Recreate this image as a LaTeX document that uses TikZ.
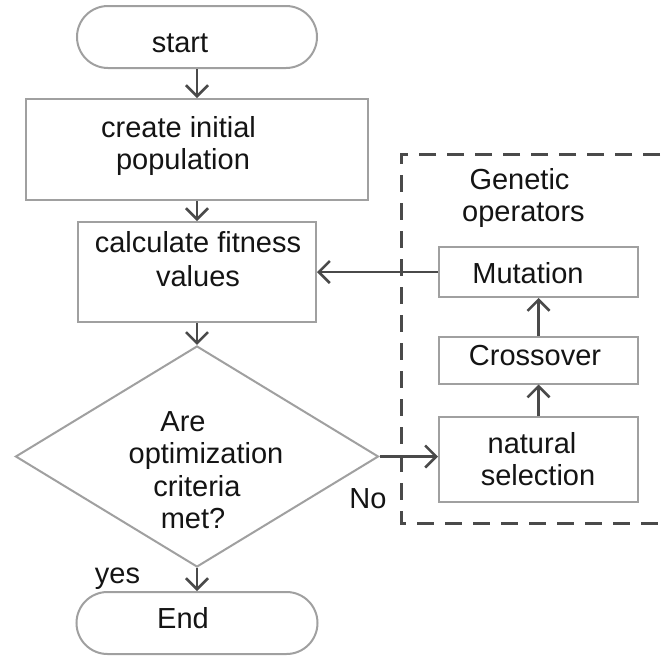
\documentclass[tikz,border=0pt]{standalone}
\usepackage{fontspec}
\setmainfont{Liberation Sans}
\usetikzlibrary{shapes.geometric,arrows.meta}
\definecolor{boxgray}{HTML}{A0A0A0}
\definecolor{arrgray}{HTML}{4A4A4A}
\definecolor{txt}{HTML}{141414}
\newcommand\ML[1]{\begin{tabular}[t]{@{}c@{}}#1\end{tabular}}
\begin{document}
\begin{tikzpicture}[x=1pt,y=-1pt,
  box/.style={draw=boxgray,line width=2pt,rectangle,inner sep=0pt},
  term/.style={box,rounded corners=31pt},
  txtnode/.style={inner sep=0pt,anchor=base,text=txt,font=\fontsize{29pt}{32.5pt}\selectfont},
  flow/.style={draw=arrgray,line width=2.5pt,-{Straight Barb[length=11pt,width=22pt]}},
  dashedbox/.style={draw=arrgray,line width=3pt,dash pattern=on 17pt off 11pt,dash phase=26pt}
]
\useasboundingbox[fill=white] (0,0) rectangle (662,656);

% left column
\node[term,minimum width=240pt,minimum height=62pt] (start) at (197,37) {};
\node[txtnode] (startt) at (180,52) {start};
\node[box,minimum width=342pt,minimum height=101pt] (create) at (197,149.5) {};
\node[txtnode] (createt) at (178.5,137) {\ML{create initial\\\hspace*{9pt}population}};
\node[box,minimum width=238pt,minimum height=100pt] (calc) at (197,272) {};
\node[txtnode] (calct) at (198,252) {\ML{calculate fitness\\[2pt]values}};
\node[diamond,draw=boxgray,line width=2pt,inner sep=0pt,minimum width=363pt,minimum height=221pt] (dec) at (197,456.5) {};
\node[txtnode] (dect) at (206,431) {\ML{Are\hspace*{46pt}\\optimization\\criteria\hspace*{18pt}\\met?\hspace*{26pt}}};
\node[term,minimum width=241pt,minimum height=62pt] (end) at (197,623) {};
\node[txtnode] (endt) at (183,628) {End};

% genetic operators
\draw[dashedbox] (662,154) -- (401,154) -- (401,523) -- (662,523);
\node[txtnode] (gent) at (523.5,189) {\ML{Genetic\hspace*{8pt}\\operators}};
\node[box,minimum width=199pt,minimum height=50pt] (mut) at (538.5,272) {};
\node[txtnode] (mutt) at (528,283) {Mutation};
\node[box,minimum width=199pt,minimum height=47pt] (cross) at (538.5,360) {};
\node[txtnode] (crosst) at (535,365) {Crossover};
\node[box,minimum width=199pt,minimum height=85pt] (nat) at (538.5,459.5) {};
\node[txtnode] (natt) at (538,453) {\ML{natural\hspace*{12pt}\\selection}};

% labels
\node[txtnode] (no) at (368,508) {No};
\node[txtnode] (yes) at (117.5,583) {yes};

% connectors
\draw[flow] (start) -- (create);
\draw[flow] (create) -- (calc);
\draw[flow] (calc) -- (dec);
\draw[flow] (dec) -- (end);
\draw[flow] (dec.east) -- (dec.east -| nat.west);
\draw[flow] (nat) -- (cross);
\draw[flow] (cross) -- (mut);
\draw[flow] (mut.west) -- (mut.west -| calc.east);
\end{tikzpicture}
\end{document}
